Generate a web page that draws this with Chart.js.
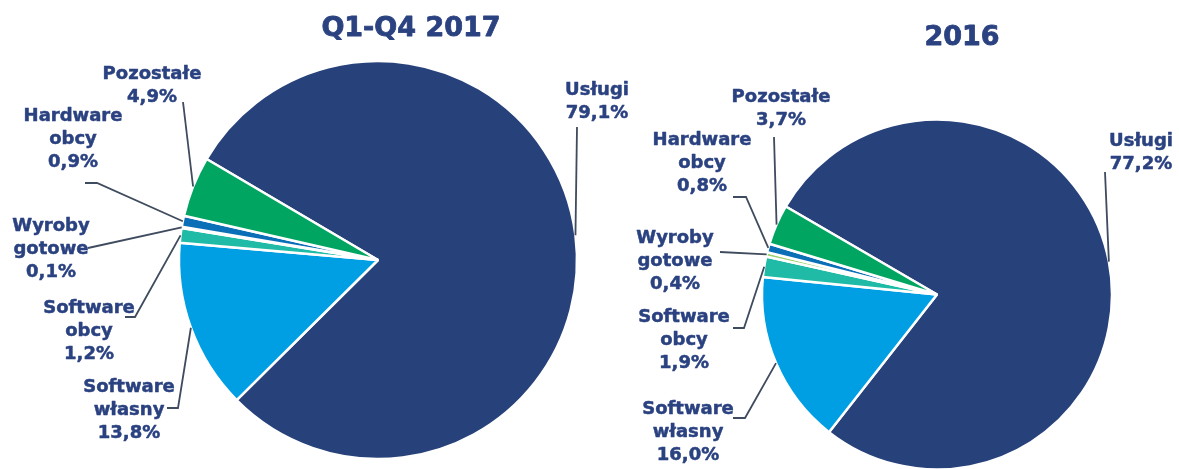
<!DOCTYPE html>
<html lang="pl">
<head>
<meta charset="utf-8">
<title>Struktura przychodów</title>
<script src="https://cdn.jsdelivr.net/npm/chart.js@4/dist/chart.umd.min.js"></script>
<style>
  html, body { margin: 0; padding: 0; background: #fff; overflow: hidden; }
  #wrap { position: relative; width: 1179px; height: 469px; }
  #wrap canvas { position: absolute; left: 0; top: 0; }
</style>
</head>
<body>
<div id="wrap">
  <canvas id="pie2017" width="1179" height="469"></canvas>
  <canvas id="pie2016" width="1179" height="469"></canvas>
</div>
<script>
// ===============================
// Dane
// ===============================
const kategorie = ['Usługi', 'Software własny', 'Software obcy', 'Wyroby gotowe', 'Hardware obcy', 'Pozostałe'];
const etykietyKategorii = [['Usługi'], ['Software', 'własny'], ['Software', 'obcy'], ['Wyroby', 'gotowe'], ['Hardware', 'obcy'], ['Pozostałe']];
const udzial2017 = [79.1, 13.8, 1.2, 0.1, 0.9, 4.9];
const udzial2016 = [77.2, 16.0, 1.9, 0.4, 0.8, 3.7];
const tytul2017 = 'Q1-Q4 2017';
const tytul2016 = '2016';

// ===============================
// Kolory i czcionki
// ===============================
const kolory = ['#27417b', '#009fe3', '#1fbba6', '#9bd06b', '#0b6fb7', '#00a562'];
const KOLOR_TEKSTU = '#2b4281';
const KOLOR_LINII = '#3f4b5e';
const FONT = '"DejaVu Sans", Verdana, sans-serif';

// ===============================
// Rozmieszczenie etykiet (x, y pierwszej linii, punkty linii odniesienia)
// ===============================
const uklady = {
  pie2017: {
    tytul: { x: 411, y: 29 },
    etykiety: [
      { x: 597, y: 90, linia: [[577, 127]] },
      { x: 129, y: 387, linia: [[167, 408], [178, 408]] },
      { x: 89, y: 308, linia: [[125, 317], [135, 317]] },
      { x: 51, y: 226, linia: [[88, 248]] },
      { x: 73, y: 116, linia: [[85, 183], [97, 183]] },
      { x: 152, y: 74, linia: [[183, 102]] }
    ]
  },
  pie2016: {
    tytul: { x: 962, y: 38 },
    etykiety: [
      { x: 1141, y: 141, linia: [[1105, 172]] },
      { x: 688, y: 409, linia: [[733, 418], [745, 418]] },
      { x: 684, y: 317, linia: [[733, 328], [744, 328]] },
      { x: 675, y: 238, linia: [[720, 252]] },
      { x: 702, y: 140, linia: [[733, 197], [746, 197]] },
      { x: 781, y: 97, linia: [[774, 137]] }
    ]
  }
};

function formatProcent(v) {
  return v.toFixed(1).replace('.', ',') + '%';
}

// ===============================
// Plugin: etykiety z liniami i tytuł
// ===============================
const etykietyPlugin = {
  id: 'etykiety',
  afterDatasetsDraw(chart) {
    const uklad = uklady[chart.canvas.id];
    const ctx = chart.ctx;
    const meta = chart.getDatasetMeta(0);
    const dane = chart.data.datasets[0].data;

    ctx.save();
    ctx.strokeStyle = KOLOR_LINII;
    ctx.lineWidth = 1.8;
    uklad.etykiety.forEach((u, i) => {
      const p = meta.data[i].getProps(['x', 'y', 'startAngle', 'endAngle', 'outerRadius'], true);
      const kat = (p.startAngle + p.endAngle) / 2;
      ctx.beginPath();
      ctx.moveTo(u.linia[0][0], u.linia[0][1]);
      for (let k = 1; k < u.linia.length; k++) {
        ctx.lineTo(u.linia[k][0], u.linia[k][1]);
      }
      ctx.lineTo(p.x + Math.cos(kat) * p.outerRadius, p.y + Math.sin(kat) * p.outerRadius);
      ctx.stroke();
    });

    // tekst lekko obrysowany, żeby był grubszy jak w oryginale
    ctx.fillStyle = KOLOR_TEKSTU;
    ctx.strokeStyle = KOLOR_TEKSTU;
    ctx.lineWidth = 0.5;
    ctx.lineJoin = 'round';
    ctx.textAlign = 'center';
    ctx.textBaseline = 'middle';
    ctx.font = 'bold 18px ' + FONT;
    uklad.etykiety.forEach((u, i) => {
      const linie = etykietyKategorii[i].concat([formatProcent(dane[i])]);
      linie.forEach((t, k) => {
        ctx.fillText(t, u.x, u.y + k * 23);
        ctx.strokeText(t, u.x, u.y + k * 23);
      });
    });

    ctx.font = 'bold 27px ' + FONT;
    ctx.lineWidth = 0.8;
    ctx.fillText(chart.options.plugins.etykiety.tytul, uklad.tytul.x, uklad.tytul.y);
    ctx.strokeText(chart.options.plugins.etykiety.tytul, uklad.tytul.x, uklad.tytul.y);
    ctx.restore();
  }
};

// ===============================
// Funkcja: utworzenie wykresu kołowego
// ===============================
function utworzWykres(id, dane, tytul, padding, promien, obrot) {
  return new Chart(document.getElementById(id), {
    type: 'pie',
    data: {
      labels: kategorie,
      datasets: [{
        data: dane,
        backgroundColor: kolory,
        borderColor: '#ffffff',
        borderWidth: 2.5,
        radius: promien
      }]
    },
    options: {
      responsive: false,
      animation: false,
      rotation: obrot,
      layout: { padding: padding },
      plugins: {
        legend: { display: false },
        tooltip: { enabled: false },
        etykiety: { tytul: tytul }
      }
    },
    plugins: [etykietyPlugin]
  });
}

document.addEventListener('DOMContentLoaded', function () {
  utworzWykres('pie2017', udzial2017, tytul2017, { left: 178, right: 601, top: 60, bottom: 9 }, 199, -59.5);
  utworzWykres('pie2016', udzial2016, tytul2016, { left: 762, right: 67, top: 120, bottom: 0 }, 175, -59.8);
});
</script>
</body>
</html>
